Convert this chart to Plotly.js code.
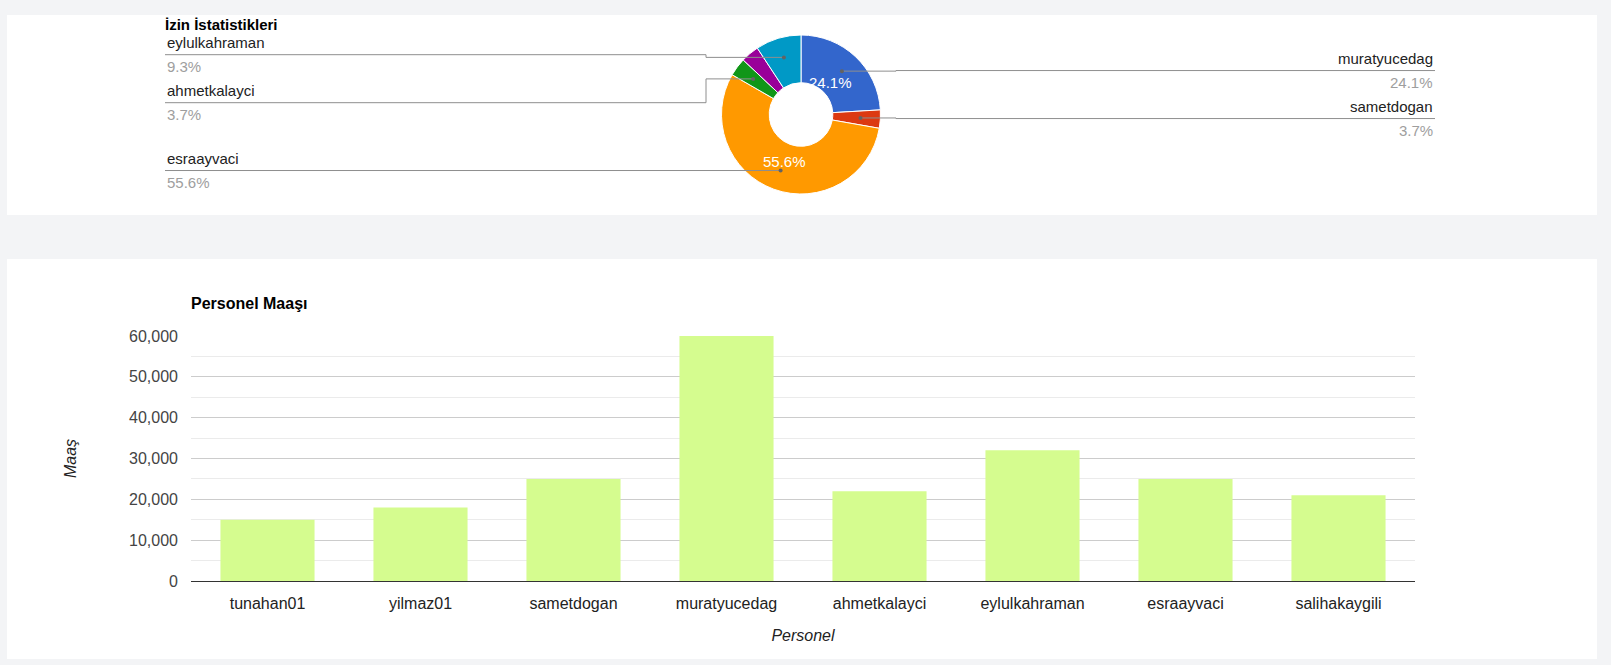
<!DOCTYPE html>
<html><head><meta charset="utf-8">
<script src="https://cdn.plot.ly/plotly-3.0.1.min.js"></script>
<style>
html,body{margin:0;padding:0;background:#f3f4f6;width:1611px;height:665px;overflow:hidden;}
.card{position:absolute;left:7px;width:1590px;background:#fff;}
#pie{top:15px;height:200px;}
#bar{top:259px;height:400px;}
</style></head><body>
<div id="pie" class="card"></div>
<div id="bar" class="card"></div>
<script>
// ---- data ----
const pieTitle = 'İzin İstatistikleri';
const pieLabels = ['muratyucedag','sametdogan','esraayvaci','ahmetkalayci','salihakaygili','eylulkahraman'];
const pieValues = [13, 2, 30, 2, 2, 5];
const pieColors = ['#3366cc','#dc3912','#ff9900','#109618','#990099','#0099c6'];

const barTitle = 'Personel Maaşı';
const barCategories = ['tunahan01','yilmaz01','sametdogan','muratyucedag','ahmetkalayci','eylulkahraman','esraayvaci','salihakaygili'];
const barValues = [15000, 18000, 25000, 60000, 22000, 32000, 25000, 21000];
const xTitle = 'Personel';
const yTitle = 'Maaş';

const FONT = 'Arial, "Liberation Sans", sans-serif';

// ---- pie chart ----
(function(){
  const W = 1590, H = 200;
  const cx = 794, cy = 99.5, R = 79.5;
  const total = pieValues.reduce((a,b)=>a+b,0);
  const X = p => p / W, Y = p => 1 - p / H;
  let acc = 0;
  const slices = pieValues.map((v,i)=>{
    const a0 = acc/total*2*Math.PI; acc += v; const a1 = acc/total*2*Math.PI;
    const mid = (a0+a1)/2;
    return {i, v, name: pieLabels[i], pct: v/total*100, mid,
      dx: cx + 0.75*R*Math.sin(mid), dy: cy - 0.75*R*Math.cos(mid),
      side: Math.sin(mid) >= 0 ? 'right' : 'left'};
  });
  const gap = 48, lo = 39.7, hi = 175, maxPerSide = Math.floor((hi-lo)/gap)+1;
  function spread(items){
    items.sort((a,b)=>a.dy-b.dy);
    const cl = items.map(it=>({its:[it]}));
    const place = c => {
      const n = c.its.length;
      const mean = c.its.reduce((s,t)=>s+t.dy,0)/n;
      let s = mean - (n-1)*gap/2;
      s = Math.max(lo, Math.min(s, hi-(n-1)*gap));
      c.start = s;
    };
    cl.forEach(place);
    let merged = true;
    while (merged) {
      merged = false;
      for (let k=0;k<cl.length-1;k++){
        const a = cl[k], b = cl[k+1];
        if (b.start - (a.start + (a.its.length-1)*gap) < gap - 1e-9) {
          a.its = a.its.concat(b.its); cl.splice(k+1,1); place(a); merged = true; break;
        }
      }
    }
    cl.forEach(c=>c.its.forEach((t,j)=>{ t.ly = c.start + j*gap; }));
  }
  const shapes = [], annotations = [];
  ['left','right'].forEach(side=>{
    let items = slices.filter(s=>s.side===side);
    items = items.slice().sort((a,b)=> b.v-a.v || a.i-b.i).slice(0, maxPerSide);
    spread(items);
    items.forEach(s=>{
      const lineCol = '#8e8e8e';
      let path;
      if (side === 'left') {
        const ex = cx - 95;
        path = `M ${X(158)},${Y(s.ly)} L ${X(ex)},${Y(s.ly)} L ${X(ex)},${Y(s.dy)} L ${X(s.dx)},${Y(s.dy)}`;
      } else {
        const ex = cx + 95;
        path = `M ${X(s.dx)},${Y(s.dy)} L ${X(ex)},${Y(s.dy)} L ${X(ex)},${Y(s.ly)} L ${X(1428)},${Y(s.ly)}`;
      }
      shapes.push({type:'path', xref:'paper', yref:'paper', path, line:{color:lineCol, width:1}, layer:'above'});
      shapes.push({type:'circle', xref:'paper', yref:'paper', xsizemode:'pixel', ysizemode:'pixel',
        xanchor: X(s.dx), yanchor: Y(s.dy), x0:-2, x1:2, y0:-2, y1:2,
        fillcolor:'#636363', line:{width:0}, layer:'above'});
      const ax = side==='left' ? X(158) : X(1428);
      const xa = side==='left' ? 'left' : 'right';
      annotations.push({xref:'paper', yref:'paper', x:ax, y:Y(s.ly-12), xanchor:xa, yanchor:'middle',
        text:s.name, showarrow:false, font:{family:FONT, size:15, color:'#222222'}});
      annotations.push({xref:'paper', yref:'paper', x:ax, y:Y(s.ly+12), xanchor:xa, yanchor:'middle',
        text:s.pct.toFixed(1)+'%', showarrow:false, font:{family:FONT, size:15, color:'#9e9e9e'}});
    });
  });
  // slice percentage text inside large slices (placed inside the ring, horizontal)
  slices.forEach(s=>{
    if (s.v/total <= 0.15) return;
    const txt = s.pct.toFixed(1)+'%';
    const hw = txt.length*0.283*15, hh = 5.4;
    const proj = hw*Math.abs(Math.sin(s.mid)) + hh*Math.abs(Math.cos(s.mid));
    const r = 0.78*R - proj;
    annotations.push({xref:'paper', yref:'paper', x:X(cx + r*Math.sin(s.mid)), y:Y(cy - r*Math.cos(s.mid)),
      xanchor:'center', yanchor:'middle', text:txt, showarrow:false,
      font:{family:FONT, size:15, color:'#ffffff'}});
  });
  const trace = {
    type:'pie', values:pieValues, labels:pieLabels, sort:false, direction:'clockwise', rotation:0,
    hole:0.4, marker:{colors:pieColors, line:{color:'#ffffff', width:1}},
    textinfo:'none',
    domain:{x:[X(cx-R), X(cx+R)], y:[Y(cy+R), Y(cy-R)]},
    showlegend:false, hoverinfo:'label+percent'
  };
  const layout = {
    width:W, height:H, margin:{l:0,r:0,t:0,b:0},
    paper_bgcolor:'#ffffff', plot_bgcolor:'#ffffff',
    title:{text:pieTitle, x:X(158), xref:'paper', xanchor:'left', y:1-10/H, yref:'container', yanchor:'middle',
      font:{family:FONT, size:15, weight:700, color:'#000000'}},
    shapes, annotations, showlegend:false
  };
  Plotly.newPlot('pie', [trace], layout, {displayModeBar:false});
})();

// ---- bar chart ----
(function(){
  const W = 1590, H = 400;
  const trace = {type:'bar', x:barCategories, y:barValues, marker:{color:'#d5fc8f'}, hoverinfo:'x+y'};
  const layout = {
    width:W, height:H, margin:{l:184, r:182, t:77, b:78},
    paper_bgcolor:'#ffffff', plot_bgcolor:'#ffffff',
    bargap:0.385, showlegend:false,
    font:{family:FONT},
    title:{text:barTitle, x:0, xref:'paper', xanchor:'left', y:1-44/H, yref:'container', yanchor:'middle',
      font:{family:FONT, size:16, weight:700, color:'#000000'}},
    xaxis:{type:'category', showgrid:false, showline:false, ticks:'', ticklabelstandoff:11,
      tickfont:{family:FONT, size:16, color:'#222222'},
      title:{text:xTitle, standoff:18, font:{family:FONT, size:16, style:'italic', color:'#222222'}}},
    yaxis:{range:[0,60000], dtick:10000, tickformat:',d', ticks:'', showline:false,
      gridcolor:'#cccccc', gridwidth:1,
      minor:{dtick:5000, showgrid:true, gridcolor:'#ebebeb', gridwidth:1},
      zeroline:true, zerolinecolor:'#333333', zerolinewidth:1,
      ticklabelstandoff:12,
      tickfont:{family:FONT, size:16, color:'#444444'},
      title:{text:yTitle, standoff:48, font:{family:FONT, size:16, style:'italic', color:'#222222'}}}
  };
  Plotly.newPlot('bar', [trace], layout, {displayModeBar:false});
})();
</script>
</body></html>
